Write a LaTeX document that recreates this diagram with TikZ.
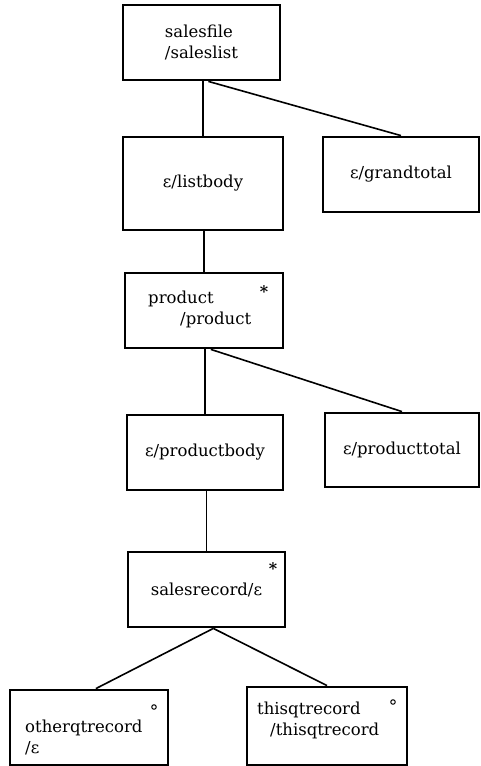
\documentclass[tikz,border=0pt]{standalone}
\usepackage{fontspec}
\setmainfont{DejaVu Serif}
\begin{document}
\begin{tikzpicture}[x=1pt,y=-1pt,
  box/.style={draw, line width=2.8pt, inner sep=0pt, align=left,
              font=\fontsize{16.5}{21}\selectfont},
  txt/.style={inner sep=0pt, align=left, anchor=west,
              font=\fontsize{16.5}{21}\selectfont},
  link/.style={line width=1.6pt},
  star/.style={inner sep=0pt, font=\fontsize{16}{16}\selectfont\bfseries},
  ring/.style={draw, circle, line width=1pt, inner sep=0pt, minimum size=4.5pt}]
\useasboundingbox (0,0) rectangle (480,766);

% boxes of the structure tree
\node[box, minimum width=157pt, minimum height=75pt] (sf) at (201.5,42.5) {salesfile\\/saleslist};
\node[box, minimum width=160pt, minimum height=93pt] (lb) at (203,183.5) {ε/listbody};
\node[box, minimum width=156pt, minimum height=75pt] (gt) at (401,174.5) {ε/grandtotal};
\node[box, minimum width=158pt, minimum height=75pt] (pr) at (204,310.5) {};
\node[box, minimum width=156pt, minimum height=75pt] (pb) at (205,452.5) {ε/productbody};
\node[box, minimum width=154pt, minimum height=74pt] (pt) at (402,450) {ε/producttotal};
\node[box, minimum width=157pt, minimum height=75pt] (sr) at (206.5,589.5) {salesrecord/ε};
\node[box, minimum width=158pt, minimum height=75pt] (oq) at (89,727.5) {};
\node[box, minimum width=160pt, minimum height=78pt] (tq) at (327,726) {};

% texts set off-centre inside their boxes
\node[txt] (prtext) at (148,309) {product\\\hspace*{32pt}/product};
\node[txt] (oqtext) at (25,737) {otherqtrecord\\/ε};
\node[txt] (tqtext) at (257,720) {thisqtrecord\\\hspace*{13pt}/thisqtrecord};

% iteration and selection marks
\node[star] (prstar) at (264,292) {*};
\node[star] (srstar) at (273,569) {*};
\node[ring] (oqring) at (154,707) {};
\node[ring] (tqring) at (393,702) {};

% connectors
\draw[link] (lb.north |- sf.south) -- (lb.north);
\draw[link] (sf.-80) -- (gt.north);
\draw[link] (pr.north |- lb.south) -- (pr.north);
\draw[link] (pb.north |- pr.south) -- (pb.north);
\draw[link] (pr.-80) -- (pt.north);
\draw[link] (sr.north |- pb.south) -- (sr.north);
\draw[link] (sr.-80) -- (oq.80);
\draw[link] (sr.-80) -- (tq.north);
\end{tikzpicture}
\end{document}
